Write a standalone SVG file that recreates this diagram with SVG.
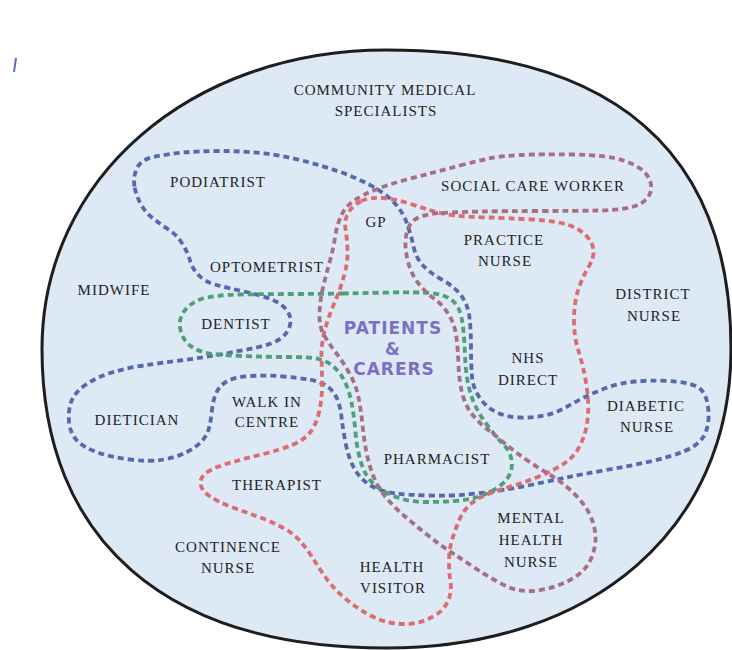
<svg xmlns="http://www.w3.org/2000/svg" width="732" height="650" viewBox="0 0 732 650">
<style>
.lbl{font-family:"Liberation Serif","Times New Roman",serif;font-size:15px;fill:#232323;text-anchor:middle;letter-spacing:1px}
.ctr{font-family:"DejaVu Sans","Liberation Sans",sans-serif;font-weight:bold;font-size:17px;fill:#7b70c2;text-anchor:middle;letter-spacing:1px}
.dash{fill:none;stroke-width:3.8;stroke-dasharray:6 4}
.blue{stroke:#5669ae}
.green{stroke:#4f9f79}
.red{stroke:#dd6c70}
.mauve{stroke:#a86f82}
</style>
<rect width="732" height="650" fill="#ffffff"/>
<line x1="16" y1="58" x2="14" y2="72" stroke="#5a72b8" stroke-width="2"/>
<g id="boundary">
<path d="M42,349 C42,178.6 190.1,50 386.5,50 C613.9,50 731,151.7 731,349 C731,528.4 593.2,648 386.5,648 C166,648 42,540.4 42,349 Z" fill="#dde9f5" stroke="#1e1e1e" stroke-width="3"/>
</g>
<g id="connectors">
<path class="dash blue" d="M134.5,186.5 Q133,178 136.5,169 Q140,160 153.5,157 Q167,154 183.5,152.5 Q200,151 220,151 Q240,151 260,153 Q280,155 300,160 Q320,165 337.5,171 Q355,177 370,185 Q385,193 394,202.5 Q403,212 407,223.5 Q411,235 413.5,246.5 Q416,258 423,265.5 Q430,273 442.5,280 Q455,287 461.5,296 Q468,305 469.5,317.5 Q471,330 471,347.5 Q471,365 472,376.5 Q473,388 479.5,397.5 Q486,407 496,412 Q506,417 519.5,417.5 Q533,418 544.5,415.5 Q556,413 565.5,407.5 Q575,402 585,397 Q595,392 607.5,387.5 Q620,383 635,381.5 Q650,380 668,381 Q686,382 694.5,385.5 Q703,389 706,398 Q709,407 708.5,418.5 Q708,430 702.5,438 Q697,446 683.5,451.5 Q670,457 650,461.5 Q630,466 606.5,470 Q583,474 566.5,477.5 Q550,481 533,484.5 Q516,488 499.5,490.5 Q483,493 466,494.5 Q449,496 429,495.5 Q409,495 396,493.5 Q383,492 372.5,486.5 Q362,481 355.5,470.5 Q349,460 346,445 Q343,430 341.5,417 Q340,404 336,396.5 Q332,389 325,385 Q318,381 309,379.5 Q300,378 283.5,376.5 Q267,375 251,376 Q235,377 227.5,381 Q220,385 216.5,392.5 Q213,400 212,410 Q211,420 209,428 Q207,436 201,442 Q195,448 186,452.5 Q177,457 163.5,459.5 Q150,462 130,459.5 Q110,457 96.5,452 Q83,447 76.5,440 Q70,433 69,421.5 Q68,410 71.5,401 Q75,392 86,384.5 Q97,377 112,372.5 Q127,368 143.5,365.5 Q160,363 180,360.5 Q200,358 220,354.5 Q240,351 256.5,347.5 Q273,344 280.5,338.5 Q288,333 290,325 Q292,317 286.5,310 Q281,303 270.5,299 Q260,295 244,291.5 Q228,288 216.5,285 Q205,282 198.5,275 Q192,268 190,260.5 Q188,253 182.5,244 Q177,235 168.5,229.5 Q160,224 152.5,218 Q145,212 140.5,203.5 Q136,195 134.5,186.5 Z"/>
<path class="dash green" d="M343,293.5 Q366,293 391,292.5 Q416,292 429.5,293 Q443,294 451,299.5 Q459,305 461.5,317.5 Q464,330 465,355 Q466,380 471,395 Q476,410 486,423.5 Q496,437 502.5,443.5 Q509,450 511,457.5 Q513,465 510.5,472.5 Q508,480 499,486.5 Q490,493 479.5,496.5 Q469,500 454.5,501 Q440,502 425,502 Q410,502 397.5,497.5 Q385,493 375.5,485.5 Q366,478 361.5,464 Q357,450 355.5,432.5 Q354,415 351.5,402.5 Q349,390 344.5,381 Q340,372 333.5,366.5 Q327,361 318.5,359 Q310,357 288.5,357 Q267,357 242,356 Q217,355 207,353 Q197,351 190,345.5 Q183,340 180.5,330 Q178,320 184,311.5 Q190,303 201.5,299 Q213,295 240,294.5 Q267,294 293.5,294 Q320,294 343,293.5 Z"/>
<path class="dash red" d="M361.5,201 Q370,197 382.5,198 Q395,199 407.5,203 Q420,207 431,210.5 Q442,214 456,215.5 Q470,217 488.5,217.5 Q507,218 532,219.5 Q557,221 568.5,225 Q580,229 586.5,236 Q593,243 593.5,250.5 Q594,258 588,268 Q582,278 578,290.5 Q574,303 574,320 Q574,337 578.5,351 Q583,365 586,382.5 Q589,400 588,415 Q587,430 581.5,442.5 Q576,455 565.5,462.5 Q555,470 539,476.5 Q523,483 509,487 Q495,491 485.5,495 Q476,499 469.5,505 Q463,511 459,520.5 Q455,530 452,540 Q449,550 449,561 Q449,572 450.5,582 Q452,592 448,601 Q444,610 435,615.5 Q426,621 415.5,623 Q405,625 392.5,623 Q380,621 367.5,614 Q355,607 344,597.5 Q333,588 326,578 Q319,568 313,558.5 Q307,549 300,541 Q293,533 281.5,527 Q270,521 257.5,516.5 Q245,512 231.5,507 Q218,502 209.5,496 Q201,490 200.5,483.5 Q200,477 207.5,472 Q215,467 231,462.5 Q247,458 263.5,454 Q280,450 292,445 Q304,440 310,432.5 Q316,425 319,412.5 Q322,400 322,385 Q322,370 321.5,357.5 Q321,345 324.5,331.5 Q328,318 334,304 Q340,290 344,276 Q348,262 347.5,250 Q347,238 345.5,229 Q344,220 348.5,212.5 Q353,205 361.5,201 Z"/>
<path class="dash mauve" d="M460,165.5 Q473,162 486.5,159 Q500,156 520,155 Q540,154 573.5,154.5 Q607,155 623.5,160.5 Q640,166 646.5,174.5 Q653,183 650.5,192 Q648,201 636.5,205.5 Q625,210 599,210.5 Q573,211 540,211 Q507,211 482,211.5 Q457,212 441,213 Q425,214 417.5,218 Q410,222 407.5,230 Q405,238 405.5,246.5 Q406,255 409,265 Q412,275 418.5,283.5 Q425,292 434,298.5 Q443,305 449,315 Q455,325 456.5,337.5 Q458,350 458.5,365 Q459,380 462,392.5 Q465,405 471.5,413.5 Q478,422 487,429 Q496,436 505.5,444 Q515,452 527.5,460.5 Q540,469 551,475.5 Q562,482 573,492.5 Q584,503 589.5,514 Q595,525 595.5,536.5 Q596,548 590.5,560 Q585,572 570,580 Q555,588 537.5,590.5 Q520,593 505,585.5 Q490,578 476.5,569 Q463,560 451.5,552.5 Q440,545 427.5,535 Q415,525 405,516.5 Q395,508 386.5,498 Q378,488 373.5,476.5 Q369,465 366.5,452.5 Q364,440 362.5,425 Q361,410 358.5,397.5 Q356,385 349.5,373.5 Q343,362 336.5,353.5 Q330,345 324.5,336 Q319,327 319.5,313.5 Q320,300 323,287.5 Q326,275 329.5,262.5 Q333,250 335,237.5 Q337,225 341,216 Q345,207 353.5,201 Q362,195 376,189.5 Q390,184 405,180 Q420,176 433.5,172.5 Q447,169 460,165.5 Z"/>
</g>
<g id="community"><text class="lbl" x="385" y="95">COMMUNITY MEDICAL</text><text class="lbl" x="386" y="116">SPECIALISTS</text></g>
<g id="podiatrist"><text class="lbl" x="218" y="187">PODIATRIST</text></g>
<g id="social"><text class="lbl" x="533" y="191">SOCIAL CARE WORKER</text></g>
<g id="gp"><text class="lbl" x="376" y="227">GP</text></g>
<g id="practice"><text class="lbl" x="504" y="245">PRACTICE</text><text class="lbl" x="505" y="266">NURSE</text></g>
<g id="optometrist"><text class="lbl" x="267" y="272">OPTOMETRIST</text></g>
<g id="midwife"><text class="lbl" x="114" y="295">MIDWIFE</text></g>
<g id="district"><text class="lbl" x="653" y="299">DISTRICT</text><text class="lbl" x="654" y="321">NURSE</text></g>
<g id="dentist"><text class="lbl" x="236" y="329">DENTIST</text></g>
<g id="patients"><text class="ctr" x="393" y="334">PATIENTS</text><text class="ctr" x="393" y="355">&amp;</text><text class="ctr" x="394" y="375">CARERS</text></g>
<g id="nhs"><text class="lbl" x="528" y="363">NHS</text><text class="lbl" x="528" y="385">DIRECT</text></g>
<g id="diabetic"><text class="lbl" x="646" y="411">DIABETIC</text><text class="lbl" x="647" y="432">NURSE</text></g>
<g id="dietician"><text class="lbl" x="137" y="425">DIETICIAN</text></g>
<g id="walkin"><text class="lbl" x="267" y="407">WALK IN</text><text class="lbl" x="267" y="427">CENTRE</text></g>
<g id="pharmacist"><text class="lbl" x="437" y="464">PHARMACIST</text></g>
<g id="therapist"><text class="lbl" x="277" y="490">THERAPIST</text></g>
<g id="continence"><text class="lbl" x="228" y="552">CONTINENCE</text><text class="lbl" x="228" y="573">NURSE</text></g>
<g id="healthvisitor"><text class="lbl" x="392" y="572">HEALTH</text><text class="lbl" x="393" y="593">VISITOR</text></g>
<g id="mentalhealth"><text class="lbl" x="531" y="523">MENTAL</text><text class="lbl" x="531" y="545">HEALTH</text><text class="lbl" x="531" y="567">NURSE</text></g>
</svg>
